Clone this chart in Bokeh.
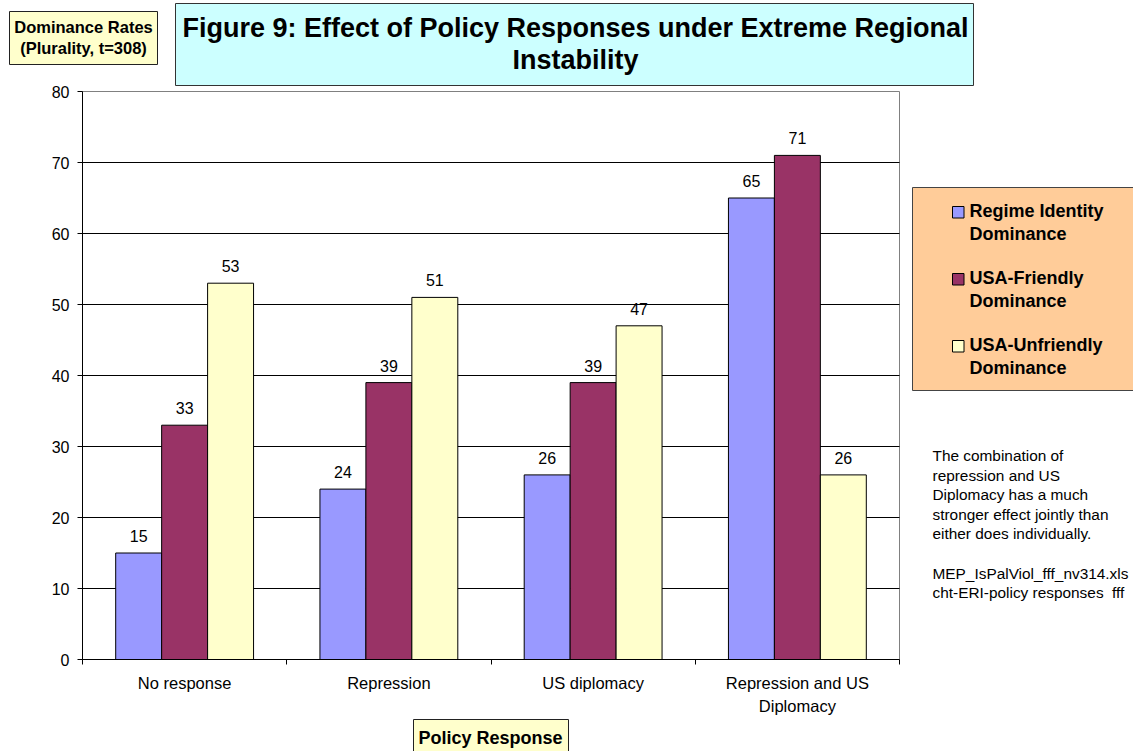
from bokeh.plotting import figure
from bokeh.models import Range1d, FixedTicker, Label, BoxAnnotation, LinearAxis
from bokeh.embed import file_html
from bokeh.resources import INLINE
from bokeh.core.properties import value

# ---- data -------------------------------------------------------------
categories = ["No response", "Repression", "US diplomacy", "Repression and US\nDiplomacy"]
series_names = ["Regime Identity Dominance", "USA-Friendly Dominance", "USA-Unfriendly Dominance"]
regime_identity = [15, 24, 26, 65]
usa_friendly = [33, 39, 39, 71]
usa_unfriendly = [53, 51, 47, 26]
y_ticks = [0, 10, 20, 30, 40, 50, 60, 70, 80]

title_lines = ["Figure 9: Effect of Policy Responses under Extreme Regional", "Instability"]
y_title_lines = ["Dominance Rates", "(Plurality, t=308)"]
x_title = "Policy Response"
note_lines = ["The combination of", "repression and US", "Diplomacy has a much",
              "stronger effect jointly than", "either does individually.", "",
              "MEP_IsPalViol_fff_nv314.xls", "cht-ERI-policy responses \u00a0fff"]

# ---- layout / styling -------------------------------------------------
colors = ["#9999FF", "#993366", "#FFFFCC"]
FONT = "Liberation Sans"
W, H = 1133, 751
PL, PR, PT, PB = 82, 899, 91, 659          # plot-area edges in pixels
n = len(categories)
YMAX = y_ticks[-1]
BAR_W = 0.225
XU = (PR - PL) / n                          # pixels per category
YU = (PB - PT) / YMAX                       # pixels per unit of value

# the frame covers the whole canvas; the plot area is a sub-region of it
p = figure(width=W, height=H,
           x_range=Range1d(-0.5 - PL / XU, n - 0.5 + (W - PR) / XU),
           y_range=Range1d(-(H - PB) / YU, YMAX + PT / YU),
           output_backend="svg", toolbar_location=None,
           x_axis_location=None, y_axis_location=None, min_border=0)
p.background_fill_color = "white"
p.border_fill_color = "white"
p.outline_line_color = None
p.grid.visible = False


def xd(px):
    return -0.5 + (px - PL) / XU


def yd(py):
    return (PB - py) / YU


# plot-area background with grey border
p.add_layout(BoxAnnotation(left=-0.5, right=n - 0.5, bottom=0, top=YMAX, fill_color="white",
                           fill_alpha=1, line_color="#808080", line_alpha=1, line_width=1,
                           level="underlay"))

# horizontal gridlines
grid_vals = y_ticks[1:-1]
p.segment(x0=[-0.5] * len(grid_vals), x1=[n - 0.5] * len(grid_vals), y0=grid_vals, y1=grid_vals,
          line_color="black", line_width=1)

# axes pinned to the plot-area edges
xaxis = LinearAxis(fixed_location=0, bounds=(-0.5, n - 0.5))
xaxis.ticker = FixedTicker(ticks=list(range(n)), minor_ticks=[i - 0.5 for i in range(n + 1)])
xaxis.major_label_overrides = {i: c for i, c in enumerate(categories)}
xaxis.major_tick_line_color = None
xaxis.major_tick_out = 5
xaxis.major_tick_in = 0
xaxis.minor_tick_line_color = "black"
xaxis.minor_tick_out = 5
xaxis.minor_tick_in = 0
xaxis.major_label_standoff = 9
xaxis.major_label_text_font = FONT
xaxis.major_label_text_font_size = "16.5px"
xaxis.major_label_text_color = "black"
xaxis.major_label_text_line_height = 1.33
xaxis.axis_line_color = "black"
p.add_layout(xaxis, "below")

yaxis = LinearAxis(fixed_location=-0.5, bounds=(0, YMAX))
yaxis.ticker = FixedTicker(ticks=y_ticks)
yaxis.minor_tick_line_color = None
yaxis.major_tick_out = 5
yaxis.major_tick_in = 0
yaxis.major_tick_line_color = "black"
yaxis.major_label_standoff = 8
yaxis.major_label_text_font = FONT
yaxis.major_label_text_font_size = "16px"
yaxis.major_label_text_color = "black"
yaxis.axis_line_color = "black"
p.add_layout(yaxis, "left")

# bars and their value labels
offsets = [-BAR_W, 0.0, BAR_W]
for vals, color, off in zip([regime_identity, usa_friendly, usa_unfriendly], colors, offsets):
    xs = [i + off for i in range(n)]
    p.vbar(x=xs, top=vals, width=BAR_W, bottom=0, fill_color=color, line_color="black", line_width=1)
    p.text(x=xs, y=vals, text=[str(v) for v in vals], text_align="center", text_baseline="middle",
           y_offset=-17, text_font=value(FONT), text_font_size="16px", text_color="black")


def box(l, t, r, b, fill, line="black"):
    p.add_layout(BoxAnnotation(left=xd(l), right=xd(r), top=yd(t), bottom=yd(b),
                               fill_color=fill, fill_alpha=1, line_color=line, line_alpha=1,
                               line_width=1))


def label(px, py, text, size, bold=False, align="center"):
    p.add_layout(Label(x=xd(px), y=yd(py), text=text, text_align=align, text_baseline="middle",
                       text_font=FONT, text_font_size=size, text_color="black",
                       text_font_style="bold" if bold else "normal"))


# title box
box(175, 3, 973, 85, "#CCFFFF", "#333333")
label(575, 27, title_lines[0], "27px", bold=True)
label(575, 59, title_lines[1], "27px", bold=True)

# value-axis caption box
box(9, 11, 157, 64, "#FFFFCC", "#222222")
label(83, 26, y_title_lines[0], "16.5px", bold=True)
label(83, 47, y_title_lines[1], "16.5px", bold=True)

# category-axis caption box
box(413, 719, 568, 760, "#FFFFCC", "#222222")
label(490, 737, x_title, "18px", bold=True)

# legend
box(912, 187, 1145, 390, "#FFCC99", "#444444")
for k, (name, color) in enumerate(zip(series_names, colors)):
    top = 206 + 67 * k
    box(952, top, 963.5, top + 11.5, color, "black")
    first, second = name.rsplit(" ", 1)
    label(969, 210 + 67 * k, first, "18px", bold=True, align="left")
    label(969, 233 + 67 * k, second, "18px", bold=True, align="left")

# side note
for k, line in enumerate(note_lines):
    if line:
        label(932, 455 + 19.6 * k, line, "15.4px", align="left")

open("out.html", "w").write(file_html(p, INLINE))
